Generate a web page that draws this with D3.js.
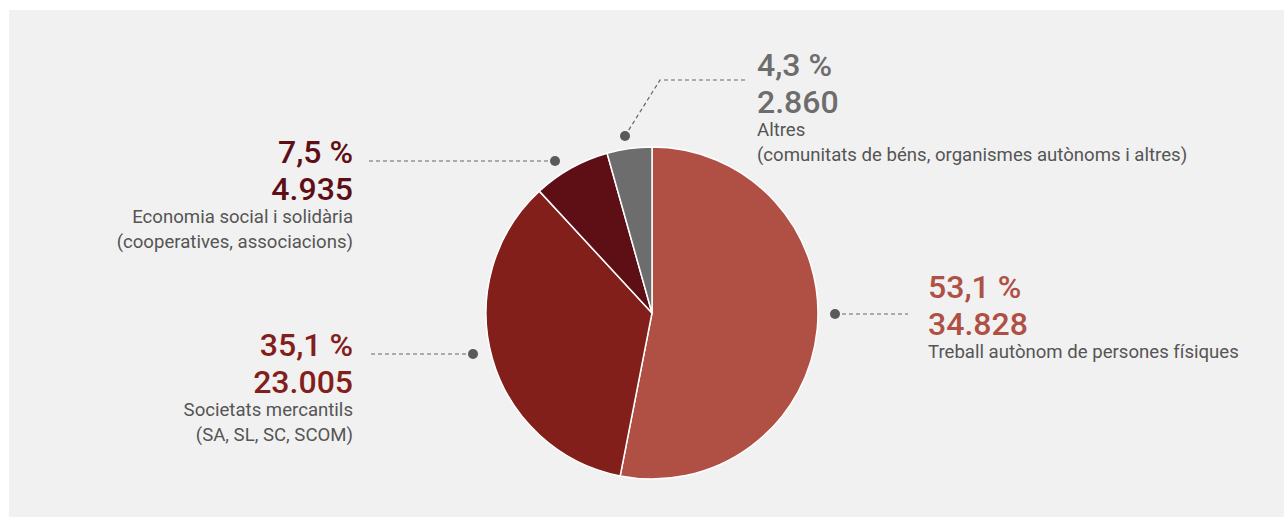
<!DOCTYPE html>
<html>
<head>
<meta charset="utf-8">
<script src="https://cdn.jsdelivr.net/npm/d3@7"></script>
<style>
  body { margin: 0; background: #fff; }
  text { font-family: Roboto, "Noto Sans", sans-serif; }
</style>
</head>
<body>
<script>
// data
var categories = ["Treball autònom de persones físiques", "Societats mercantils", "Economia social i solidària", "Altres"];
var subtitles = [[], ["(SA, SL, SC, SCOM)"], ["(cooperatives, associacions)"], ["(comunitats de béns, organismes autònoms i altres)"]];
var values = [34828, 23005, 4935, 2860];
var percents = ["53,1 %", "35,1 %", "7,5 %", "4,3 %"];
var counts = ["34.828", "23.005", "4.935", "2.860"];
var colors = ["#b04f44", "#831f1a", "#5e0f15", "#6d6d6d"];

var width = 1284, height = 517;
var cx = 652, cy = 313, r = 166;

var svg = d3.select("body").append("svg")
  .attr("width", width)
  .attr("height", height);

// panel
svg.append("rect")
  .attr("x", 9).attr("y", 10)
  .attr("width", width - 9).attr("height", height - 10)
  .attr("fill", "#f1f1f1");

var pie = d3.pie().sort(null).value(function(d) { return d; });
var arcs = pie(values);
var arc = d3.arc().innerRadius(0).outerRadius(r);

var g = svg.append("g").attr("transform", "translate(" + cx + "," + cy + ")");
g.selectAll("path")
  .data(arcs)
  .enter().append("path")
    .attr("d", arc)
    .attr("fill", function(d, i) { return colors[i]; })
    .attr("stroke", "#fff")
    .attr("stroke-width", 1.5);

// label layout: dot, leader line, text anchor
var labels = [
  { dot: [835, 314], line: [[835, 314], [908, 314]], tx: 928, ty: 298, anchor: "start" },
  { dot: [473, 354], line: [[473, 354], [370, 354]], tx: 353, ty: 356, anchor: "end" },
  { dot: [555, 161], line: [[555, 161], [368, 161]], tx: 353, ty: 163, anchor: "end" },
  { dot: [625, 136], line: [[625, 136], [660, 80], [745, 80]], tx: 757, ty: 76, anchor: "start" }
];

var lab = svg.append("g").selectAll("g")
  .data(labels)
  .enter().append("g");

lab.append("path")
  .attr("d", function(d) { return d3.line()(d.line); })
  .attr("fill", "none")
  .attr("stroke", "#666")
  .attr("stroke-width", 1.2)
  .attr("stroke-dasharray", "4,3");

lab.append("circle")
  .attr("cx", function(d) { return d.dot[0]; })
  .attr("cy", function(d) { return d.dot[1]; })
  .attr("r", 5)
  .attr("fill", "#5a5a5a");

lab.append("text")
  .attr("x", function(d) { return d.tx; })
  .attr("y", function(d) { return d.ty; })
  .attr("text-anchor", function(d) { return d.anchor; })
  .attr("font-size", 32)
  .attr("font-weight", 500)
  .attr("fill", function(d, i) { return colors[i]; })
  .text(function(d, i) { return percents[i]; });

lab.append("text")
  .attr("x", function(d) { return d.tx; })
  .attr("y", function(d) { return d.ty + 37; })
  .attr("text-anchor", function(d) { return d.anchor; })
  .attr("font-size", 32)
  .attr("font-weight", 500)
  .attr("fill", function(d, i) { return colors[i]; })
  .text(function(d, i) { return counts[i]; });

lab.each(function(d, i) {
  var lines = [categories[i]].concat(subtitles[i]);
  var sel = d3.select(this);
  lines.forEach(function(t, j) {
    sel.append("text")
      .attr("x", d.tx)
      .attr("y", d.ty + 60 + j * 25)
      .attr("text-anchor", d.anchor)
      .attr("font-size", 18.6)
      .attr("fill", "#555")
      .text(t);
  });
});
</script>
</body>
</html>
